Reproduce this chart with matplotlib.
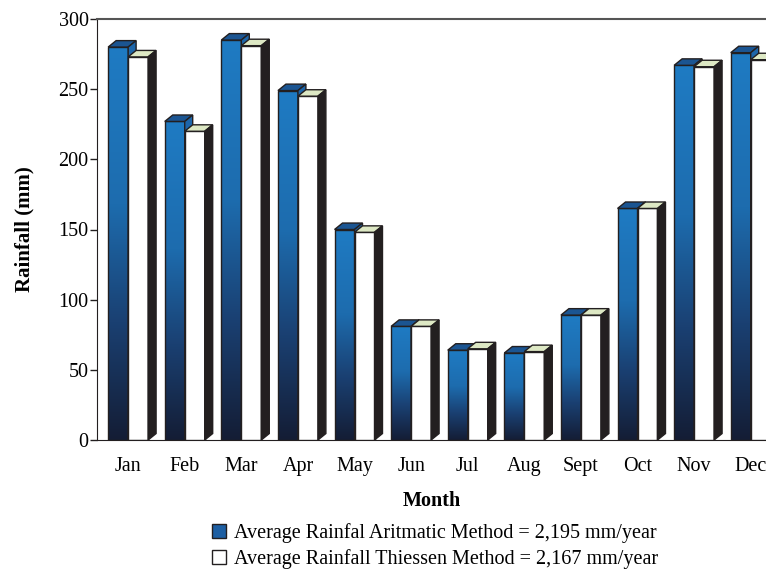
import numpy as np
import matplotlib.pyplot as plt
from matplotlib.colors import LinearSegmentedColormap
from matplotlib.patches import Polygon, Rectangle, Patch

months = ["Jan", "Feb", "Mar", "Apr", "May", "Jun",
          "Jul", "Aug", "Sept", "Oct", "Nov", "Dec"]
arithmetic = [280, 227, 285, 249, 150, 81, 64, 62, 89, 165, 267, 276]
thiessen = [273, 220, 281, 245, 148, 81, 65, 63, 89, 165, 266, 271]

plt.rcParams["font.family"] = "Liberation Serif"

EDGE = "#231f20"
blue_cmap = LinearSegmentedColormap.from_list(
    "rain_blue",
    [(0.0, "#141d35"), (0.3, "#1a4072"), (0.6, "#1d6cae"), (1.0, "#1f7bc3")])

fig = plt.figure(figsize=(7.66, 5.69), dpi=100)
ax = fig.add_axes([97 / 766, 1 - 440 / 569, 669 / 766, 421 / 569])

width = 0.353   # bar front width
dx = 0.141      # depth offset (x, data units)
dy = 4.6        # depth offset (y, data units)
grad = np.linspace(0, 1, 256).reshape(-1, 1)

x = np.arange(len(months))


def draw_box(x0, h, front, top, side, z):
    x1 = x0 + width
    if front is None:
        ax.imshow(grad, cmap=blue_cmap, origin="lower", aspect="auto",
                  extent=(x0, x1, 0, h), zorder=z)
        ax.add_patch(Rectangle((x0, 0), width, h, facecolor="none",
                               edgecolor=EDGE, lw=1.0, zorder=z + 0.1))
    else:
        ax.add_patch(Rectangle((x0, 0), width, h, facecolor=front,
                               edgecolor=EDGE, lw=1.0, zorder=z))
    ax.add_patch(Polygon([(x0, h), (x0 + dx, h + dy), (x1 + dx, h + dy), (x1, h)],
                         closed=True, facecolor=top, edgecolor=EDGE,
                         lw=1.0, zorder=z + 0.2))
    ax.add_patch(Polygon([(x1, 0), (x1 + dx, dy), (x1 + dx, h + dy), (x1, h)],
                         closed=True, facecolor=side, edgecolor=EDGE,
                         lw=1.0, zorder=z + 0.2))


for i in range(len(months)):
    draw_box(x[i] - width, arithmetic[i], None, "#1b5592", "#1d66aa", 2 + i)
    draw_box(x[i], thiessen[i], "white", "#dde8c4", EDGE, 2.5 + i)

ax.set_xlim(-0.55, 11.27)
ax.set_ylim(0, 300)
ax.set_yticks(range(0, 301, 50))
ax.set_xticks(x)
ax.set_xticklabels(months)
ax.tick_params(axis="x", length=0, pad=12, labelsize=14.5)
ax.tick_params(axis="y", length=5, width=1, direction="out", labelsize=14.5,
               pad=1, color=EDGE)

ax.spines["right"].set_visible(False)
ax.spines["top"].set_color("#555555")
ax.spines["top"].set_linewidth(1.5)
ax.spines["left"].set_color(EDGE)
ax.spines["bottom"].set_color(EDGE)

ax.set_xlabel("Month", fontsize=14.5, fontweight="bold", labelpad=11)
ax.set_ylabel("Rainfall (mm)", fontsize=15, fontweight="bold", labelpad=17)

handles = [Patch(facecolor="#1d5fa3", edgecolor=EDGE, lw=1.0),
           Patch(facecolor="white", edgecolor=EDGE, lw=1.0)]
labels = [f"Average Rainfal Aritmatic Method = {sum(arithmetic):,} mm/year",
          f"Average Rainfall Thiessen Method = {sum(thiessen):,} mm/year"]
fig.legend(handles, labels, loc="upper center", bbox_to_anchor=(0.568, 0.098),
           frameon=False, fontsize=14.5, handlelength=0.7, handleheight=0.7,
           handletextpad=0.4, labelspacing=0.3, borderpad=0)

fig.savefig("out.png", dpi=100)
